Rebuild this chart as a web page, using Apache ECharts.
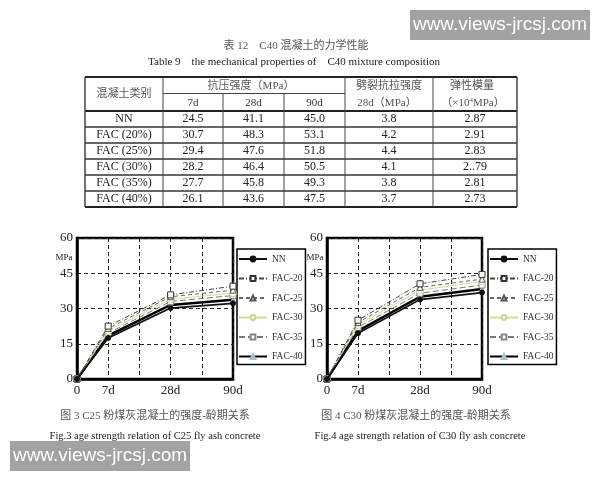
<!DOCTYPE html>
<html><head><meta charset="utf-8">
<script src="https://cdn.jsdelivr.net/npm/echarts@6/dist/echarts.min.js"></script>
<style>html,body{margin:0;padding:0;background:#fff}#c{width:600px;height:480px}</style>
</head><body><div id="c"></div>
<script>
// ---------- table data (Table 9: C40) ----------
const mixNames = ['NN','FAC (20%)','FAC (25%)','FAC (30%)','FAC (35%)','FAC (40%)'];
const comp7d   = ['24.5','30.7','29.4','28.2','27.7','26.1'];
const comp28d  = ['41.1','48.3','47.6','46.4','45.8','43.6'];
const comp90d  = ['45.0','53.1','51.8','50.5','49.3','47.5'];
const split28d = ['3.8','4.2','4.4','4.1','3.8','3.7'];
const elastic  = ['2.87','2.91','2.83','2..79','2.81','2.73'];

// ---------- chart data ----------
const seriesNames = ['NN','FAC-20','FAC-25','FAC-30','FAC-35','FAC-40'];
const xTickLabels = ['0','7d','','28d','','90d'];
const agePos = [0,1,3,5];           // positions of 0, 7d, 28d, 90d on the x axis
const yTicks = [0,15,30,45,60];
// Fig.3  C25
const c25NN    = [0,17.5,30.2,32.2];
const c25FAC20 = [0,22.5,35.8,39.5];
const c25FAC25 = [0,21.5,35.0,37.8];
const c25FAC30 = [0,20.5,34.0,36.5];
const c25FAC35 = [0,19.5,33.0,35.5];
const c25FAC40 = [0,18.5,31.5,33.7];
// Fig.4  C30
const c30NN    = [0,19.5,33.8,36.8];
const c30FAC20 = [0,25.0,40.5,44.5];
const c30FAC25 = [0,24.0,39.0,42.5];
const c30FAC30 = [0,23.0,37.8,41.5];
const c30FAC35 = [0,22.0,36.5,40.0];
const c30FAC40 = [0,20.5,35.0,38.3];

const SERIF = '"Liberation Serif","Noto Sans CJK SC",serif';
const styles = [
  {line:{color:'#111',width:1.8,type:'solid'}, symbol:'circle', size:5, item:{color:'#111',borderColor:'#111',borderWidth:1}},
  {line:{color:'#444',width:1,type:[5,2,1,2]}, symbol:'rect', size:6, item:{color:'#fff',borderColor:'#333',borderWidth:1}},
  {line:{color:'#666',width:1,type:[4,3]}, symbol:'triangle', size:6, item:{color:'#fff',borderColor:'#555',borderWidth:1}},
  {line:{color:'#d6d99a',width:1,type:'solid'}, symbol:'circle', size:7, item:{color:'#fff',borderColor:'#cfd28a',borderWidth:1}},
  {line:{color:'#777',width:1,type:[6,3]}, symbol:'rect', size:6, item:{color:'#fff',borderColor:'#888',borderWidth:1}},
  {line:{color:'#000',width:2.5,type:'solid'}, symbol:'triangle', size:5, item:{color:'#a9c0cc',borderColor:'#a9c0cc',borderWidth:1}}
];

function mkSeries(arrs, gi){
  return arrs.map((arr,k)=>({
    type:'line', name:seriesNames[k], xAxisIndex:gi, yAxisIndex:gi,
    data: agePos.map((x,i)=>[x,arr[i]]),
    symbol:styles[k].symbol, symbolSize:styles[k].size, showSymbol:true,
    lineStyle:styles[k].line, itemStyle:styles[k].item,
    z: 10 - k, animation:false
  }));
}

const grids = [
  {left:77, top:238, width:156, height:141},
  {left:327, top:238, width:155, height:141}
];

function xAxis(gi){
  return {type:'value', gridIndex:gi, min:0, max:5, interval:1,
    axisLine:{show:true,lineStyle:{color:'#000',width:2.5}}, axisTick:{show:false},
    axisLabel:{fontFamily:SERIF,fontSize:13,color:'#222',margin:5,formatter:v=>xTickLabels[Math.round(v)]||''},
    splitLine:{show:true,lineStyle:{color:'#222',width:1,type:[4,3]}}};
}
function yAxis(gi){
  return {type:'value', gridIndex:gi, min:yTicks[0], max:yTicks[yTicks.length-1], interval:15,
    axisLine:{show:true,lineStyle:{color:'#000',width:2.5}}, axisTick:{show:false},
    axisLabel:{fontFamily:SERIF,fontSize:13,color:'#222',margin:4},
    splitLine:{show:true,lineStyle:{color:'#222',width:1,type:[4,3]}}};
}
function legend(left){
  return {orient:'vertical', left:left, top:249, itemWidth:28, itemHeight:6, itemGap:9.5,
    padding:[5,3,3,1], borderColor:'#000', borderWidth:1.5, backgroundColor:'#fff',
    selectedMode:false, data:seriesNames,
    textStyle:{fontFamily:SERIF,fontSize:9.5,color:'#333',lineHeight:10}};
}

// ---------- table graphics ----------
const G = [];
function txt(x,y,text,size,color,extra){
  G.push(Object.assign({type:'text', x:x, y:y, z:100, style:{text:text, fill:color||'#333',
    font:(size||12)+'px '+SERIF, fontSize:size||12, fontFamily:SERIF,
    align:'center', verticalAlign:'middle', textAlign:'center', textVerticalAlign:'middle'}}, extra||{}));
}
function ln(x1,y1,x2,y2,w,c){
  G.push({type:'line', z:100, shape:{x1,y1,x2,y2}, style:{stroke:c||'#222', lineWidth:w||1}});
}
const colX = [85,163,223,284,345,433,517];
const tTop=77, tMid=93.5, tHead=111, rowH=16;
const nRows = mixNames.length;
const tBot = tHead + rowH*nRows;
// horizontal rules
ln(colX[0],tTop,colX[6],tTop,2,'#222');
ln(colX[1],tMid,colX[4],tMid,1,'#444');
ln(colX[0],tHead,colX[6],tHead,2,'#222');
for(let r=1;r<nRows;r++) ln(colX[0],tHead+rowH*r,colX[6],tHead+rowH*r,1.6,'#333');
ln(colX[0],tBot,colX[6],tBot,2,'#222');
// vertical rules
[0,1,4,5,6].forEach(i=>ln(colX[i],tTop,colX[i],tBot,i===0||i===6?1.5:1,'#444'));
[2,3].forEach(i=>ln(colX[i],tMid,colX[i],tBot,1,'#444'));
const cc = i=>(colX[i]+colX[i+1])/2;
// header
txt(cc(0),94,'混凝土类别',11,'#555');
txt((colX[1]+colX[4])/2-3,86,'抗压强度（MPa）',11,'#555');
txt(cc(1),103,'7d',11,'#333'); txt(cc(2),103,'28d',11,'#333'); txt(cc(3),103,'90d',11,'#333');
txt(cc(4),86,'劈裂抗拉强度',11,'#555');
txt(cc(4)-2,103,'28d（MPa）',11,'#555');
txt(cc(5)-3,86,'弹性模量',11,'#555');
G.push({type:'text', x:cc(5)-2, y:103, z:100, style:{text:'（×10{s|4}MPa）', fill:'#555',
  font:'11px '+SERIF, fontSize:11, fontFamily:SERIF, align:'center', verticalAlign:'middle',
  textAlign:'center', textVerticalAlign:'middle',
  rich:{s:{fontSize:7, fontFamily:SERIF, verticalAlign:'top', padding:[0,0,6,0], fill:'#555'}}}});
// body
const cols = [mixNames, comp7d, comp28d, comp90d, split28d, elastic];
for(let r=0;r<nRows;r++){
  const y = tHead + rowH*r + rowH/2;
  cols.forEach((c,i)=>txt(cc(i),y,c[r],12,'#222'));
}
// titles
txt(296,46,'表 12　C40 混凝土的力学性能',11,'#555');
txt(294,62,'Table 9　the mechanical properties of　C40 mixture composition',11,'#222');
// MPa labels
txt(64,258,'MPa',9,'#222');
txt(315,258,'MPa',9,'#222');
// captions
txt(155,416,'图 3 C25 粉煤灰混凝土的强度-龄期关系',11,'#555');
txt(155,436,'Fig.3 age strength relation of C25 fly ash concrete',10.5,'#222');
txt(416,416,'图 4 C30 粉煤灰混凝土的强度-龄期关系',11,'#555');
txt(420,436,'Fig.4 age strength relation of C30 fly ash concrete',10.5,'#222');
// watermarks
function wm(x,y){
  G.push({type:'rect', z:200, shape:{x:x,y:y,width:180,height:30}, style:{fill:'#a2a2a2'}});
  G.push({type:'text', z:201, x:x+90, y:y+15, style:{text:'www.views-jrcsj.com', fill:'#fff',
    font:'19px "Liberation Sans",Arial,sans-serif', fontSize:19, fontFamily:'"Liberation Sans",Arial,sans-serif',
    align:'center', verticalAlign:'middle', textAlign:'center', textVerticalAlign:'middle'}});
}
wm(410,10); wm(10,441);

const chart = echarts.init(document.getElementById('c'), null, {renderer:'canvas'});
chart.setOption({
  animation:false,
  backgroundColor:'#fff',
  grid: grids.map(g=>Object.assign({show:true,borderColor:'#000',borderWidth:2.5,backgroundColor:'transparent'},g)),
  xAxis:[xAxis(0),xAxis(1)],
  yAxis:[yAxis(0),yAxis(1)],
  legend:[legend(237),legend(488)],
  series: mkSeries([c25NN,c25FAC20,c25FAC25,c25FAC30,c25FAC35,c25FAC40],0)
    .concat(mkSeries([c30NN,c30FAC20,c30FAC25,c30FAC30,c30FAC35,c30FAC40],1)),
  graphic:{elements:G}
});
</script>
</body></html>
